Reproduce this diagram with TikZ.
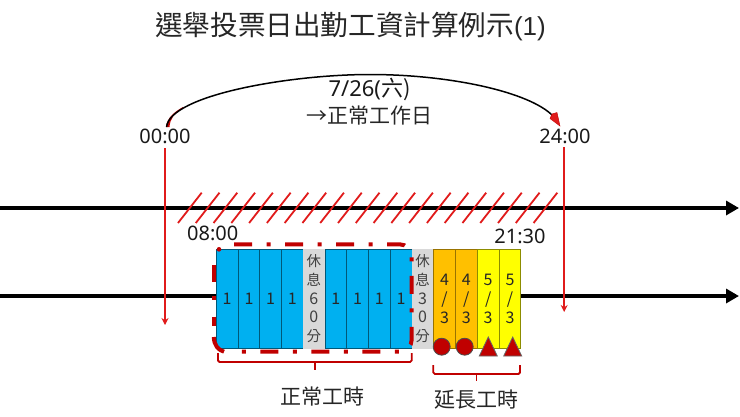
\documentclass[tikz,border=0pt]{standalone}
\usepackage{fontspec}
\setmainfont{Noto Sans}
\newfontfamily\cjk{Noto Sans CJK TC}
\usetikzlibrary{arrows.meta,calc}
\definecolor{dred}{HTML}{C00000}
\definecolor{lred}{HTML}{E01B1B}
\definecolor{blue1}{HTML}{00B0F0}
\definecolor{orange1}{HTML}{FFC000}
\definecolor{yellow1}{HTML}{FFFF00}
\definecolor{gray1}{HTML}{D9D9D9}
\newcommand\smallcjk[1]{{\fontsize{14.5}{18.8}\selectfont #1}}
\tikzset{
  cellbox/.style={draw=#1,line width=.9pt,inner sep=0pt,anchor=north west,minimum height=98.4pt,align=center,text=black!85,font=\cjk\fontsize{16}{18.8}\selectfont},
  bluecell/.style={cellbox=blue1!50!black,fill=blue1,minimum width=21.8pt},
  restcell/.style={draw=gray1,fill=gray1,line width=.4pt,inner sep=0pt,anchor=north west,minimum height=98.4pt,align=center,text=black!75,font=\cjk\fontsize{16}{18.8}\selectfont,minimum width=21.8pt},
  orangecell/.style={cellbox=orange1!60!black,fill=orange1,minimum width=21.8pt},
  yellowcell/.style={cellbox=yellow1!55!black,fill=yellow1,minimum width=21.8pt},
  axisline/.style={line width=4.4pt,black,-{Triangle[length=13pt,width=14pt]}},
  plainaxis/.style={line width=4.4pt,black},
  timeline/.style={draw=lred,line width=1.8pt,-{Stealth[length=7pt,width=7pt]}},
  hatchline/.style={draw=lred,line width=1.8pt},
  bracket/.style={draw=dred,line width=1.8pt,rounded corners=1.5pt},
  framepiece/.style={draw=dred,line width=4pt},
  lab/.style={inner sep=0pt,font=\fontsize{20}{24}\selectfont,text=black!90},
  cjklab/.style={inner sep=0pt,font=\cjk\fontsize{21}{24}\selectfont,text=black!85},
  markc/.style={circle,draw=black!70,fill=dred,line width=.8pt,minimum size=17pt,inner sep=0pt},
  markt/.style={draw=black!60,fill=dred,line width=.8pt,line join=miter},
}
\begin{document}
\begin{tikzpicture}[x=1pt,y=-1pt]
\useasboundingbox (0,0) rectangle (740,416);
% axes
\coordinate (a1s) at (0,208); \coordinate (a1e) at (739,208);
\coordinate (a2s) at (0,296); \coordinate (a2e) at (739,296);
\draw[axisline] (a1s) -- (a1e);
% hatching
\foreach \i in {0,...,20}{
  \draw[hatchline] ({178+17.78*\i},223) -- ({201.7+17.78*\i},192.7);
}
% cells
\node[bluecell] (c1) at (215.8,249.3) {1};
\node[bluecell] (c2) at (237.6,249.3) {1};
\node[bluecell] (c3) at (259.3,249.3) {1};
\node[bluecell] (c4) at (281,249.3) {1};
\node[restcell] (r1) at (302.8,249.3) {\smallcjk{休}\\\smallcjk{息}\\6\\0\\\smallcjk{分}};
\node[bluecell] (c5) at (324.5,249.3) {1};
\node[bluecell] (c6) at (346.2,249.3) {1};
\node[bluecell] (c7) at (368,249.3) {1};
\node[bluecell] (c8) at (389.7,249.3) {1};
\node[restcell] (r2) at (411.5,249.3) {\smallcjk{休}\\\smallcjk{息}\\3\\0\\\smallcjk{分}};
\node[orangecell] (o1) at (433.2,249.3) {4\\/\\3};
\node[orangecell] (o2) at (455,249.3) {4\\/\\3};
\node[yellowcell] (y1) at (476.8,249.3) {5\\/\\3};
\node[yellowcell] (y2) at (498.6,249.3) {5\\/\\3};
\draw[plainaxis] (a2s) -- (c1.west |- a2s);
\draw[axisline] (y2.east |- a2e) -- (a2e);
% time verticals
\coordinate (t0) at (165,148); \coordinate (t0e) at (165,325);
\coordinate (t1) at (564.2,147); \coordinate (t1e) at (564.2,312);
\draw[timeline] (t0) -- (t0e);
\draw[timeline] (t1) -- (t1e);
% dash-dot frame
\draw[framepiece,rounded corners=12pt,dash pattern=on 18pt off 14.5pt on 4pt off 14.5pt]
  (234,244.3) -- (411.7,244.3) -- (411.7,351.7) -- (238.7,351.7);
\draw[framepiece] (213.8,265) -- (213.8,282);
\draw[framepiece] (213.8,296) -- (213.8,300);
\draw[framepiece] (213.8,316.5) -- (213.8,326);
\draw[framepiece] (213.8,337) .. controls (214,345) and (218,350) .. (224,351.7);
\fill[dred] (219,249.3) circle (2.3pt);
% arc arrow
\coordinate (arcs) at (166.5,127); \coordinate (arce) at (560,126);
\fill[dred] (166,127) .. controls (167,118) and (174,112) .. (183,107) -- (183,108.5) .. controls (174,113) and (170,119) .. (169.5,127) -- cycle;
\draw[black,line width=1.5pt] (arcs) .. controls (170,95) and (290,74.5) .. (370,74.5) .. controls (450,74.5) and (530,92) .. (553,116);
\fill[lred,draw=dred,line width=.4pt] (552,114) -- (557,112.5) -- (560,126) -- (550,118.5) -- cycle;
% markers
\node[markc] (m1) at (441.7,346.7) {};
\node[markc] (m2) at (464.7,346.7) {};
\draw[markt] (488.3,337) -- (497.3,356) -- (479.3,356) -- cycle;
\draw[markt] (512.7,337) -- (521.7,356) -- (503.7,356) -- cycle;
% brackets
\draw[bracket] (218,353) -- (218,362) -- (411.7,362) -- (411.7,353);
\draw[dred,line width=1.8pt] (315,362) -- (315,370);
\draw[bracket] (433.3,365) -- (433.3,374) -- (520,374) -- (520,365);
\draw[dred,line width=1.8pt] (476.5,374) -- (476.5,381);
% labels
\node[cjklab,font=\cjk\fontsize{27.6}{32}\selectfont] (title) at (350.5,27) {選舉投票日出勤工資計算例示\fontspec{Liberation Sans}\fontsize{26}{30}\selectfont(1)};
\node[lab,font=\fontsize{22}{26}\selectfont] (date) at (369.5,89) {7/26(\cjk 六)};
\node[cjklab] (norm) at (369,116) {→正常工作日};
\node[lab] (t00) at (165,136) {00:00};
\node[lab] (t24) at (565,136.5) {24:00};
\node[lab] (t08) at (212.7,233) {08:00};
\node[lab] (t21) at (520,236.5) {21:30};
\node[cjklab] (lb1) at (322.7,397) {正常工時};
\node[cjklab] (lb2) at (476.5,400) {延長工時};
\end{tikzpicture}
\end{document}
